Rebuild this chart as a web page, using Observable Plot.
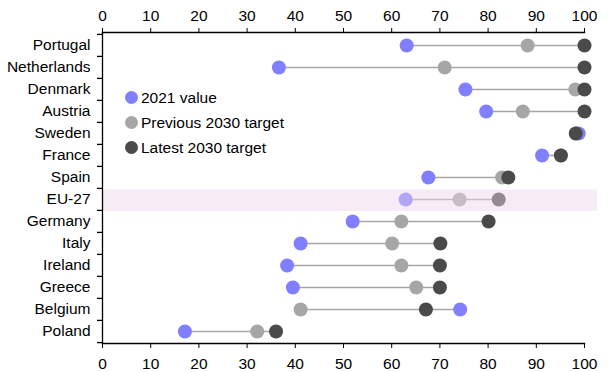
<!DOCTYPE html>
<html>
<head>
<meta charset="utf-8">
<script src="https://cdn.jsdelivr.net/npm/d3@7"></script>
<script src="https://cdn.jsdelivr.net/npm/@observablehq/plot@0.6"></script>
<style>
  html, body { margin: 0; padding: 0; background: #fff; }
  #wrap { position: relative; width: 608px; height: 372px; font-family: "Liberation Sans", Arial, sans-serif; }
  #legend { position: absolute; left: 125px; top: 85px; font-size: 15.5px; color: #000; }
  .item { display: flex; align-items: center; height: 25px; }
  .sw { width: 13px; height: 13px; border-radius: 50%; margin-right: 3px; }
</style>
</head>
<body>
<div id="wrap"><div id="legend"></div></div>
<script>
const countries = ["Portugal","Netherlands","Denmark","Austria","Sweden","France","Spain","EU-27","Germany","Italy","Ireland","Greece","Belgium","Poland"];
const value2021 = [63.1, 36.6, 75.3, 79.6, 98.8, 91.2, 67.6, 62.9, 51.9, 41.1, 38.3, 39.5, 74.2, 17.1];
const previous2030 = [88.2, 71, 98.1, 87.2, 98.2, 95.1, 82.9, 74.1, 62, 60.1, 62, 65.1, 41.1, 32.1];
const latest2030 = [100, 100, 100, 100, 98.2, 95.1, 84.2, 82.2, 80.1, 70.1, 70, 70, 67.1, 36];
const xTicks = [0,10,20,30,40,50,60,70,80,90,100];
const seriesNames = ["2021 value", "Previous 2030 target", "Latest 2030 target"];
const highlight = "EU-27";

const colors = ["#7f7fff", "#a6a6a6", "#4a4a4a"];
const rows = countries.map((c, i) => ({
  country: c, v: value2021[i], p: previous2030[i], l: latest2030[i],
  lo: Math.min(value2021[i], previous2030[i], latest2030[i]),
  hi: Math.max(value2021[i], previous2030[i], latest2030[i])
}));

const H = 372, mt = 32, mb = 29;
const bw = (H - mt - mb) / countries.length;

const chart = Plot.plot({
  width: 608, height: H,
  marginLeft: 102, marginRight: 24, marginTop: mt, marginBottom: mb,
  style: { fontFamily: "'Liberation Sans', Arial, sans-serif", fontSize: "15.5px", color: "#000", background: "transparent" },
  x: { domain: [xTicks[0], xTicks[xTicks.length - 1]] },
  y: { domain: countries, padding: 0 },
  marks: [
    Plot.ruleY(rows, { y: "country", x1: "lo", x2: "hi", stroke: "#a6a6a6", strokeWidth: 1.6 }),
    Plot.dot(rows, { x: "v", y: "country", r: 7, fill: colors[0] }),
    Plot.dot(rows, { x: "p", y: "country", r: 7, fill: colors[1] }),
    Plot.dot(rows, { x: "l", y: "country", r: 7, fill: colors[2] }),
    Plot.barX([highlight], { y: d => d, x1: xTicks[0], x2: xTicks[xTicks.length - 1], insetRight: -13, insetTop: 1.5, insetBottom: -1, fill: "#eed4e9", fillOpacity: 0.46 }),
    Plot.axisX({ anchor: "top", ticks: xTicks, tickSize: 5, tickPadding: 7, label: null, tickFormat: d => d }),
    Plot.axisX({ anchor: "bottom", ticks: xTicks, tickSize: 5, tickPadding: 9.5, label: null, tickFormat: d => d }),
    Plot.axisY({ anchor: "left", tickSize: 0, tickPadding: 12, label: null }),
    Plot.axisY({ anchor: "left", tickSize: 5, text: null, dy: -bw / 2, label: null, strokeWidth: 1.3 }),
    Plot.axisY({ anchor: "left", ticks: [countries[countries.length - 1]], tickSize: 5, text: null, dy: bw / 2, label: null, strokeWidth: 1.3 }),
    Plot.frame({ anchor: "top", strokeWidth: 1.3 }),
    Plot.frame({ anchor: "bottom", strokeWidth: 1.3 }),
    Plot.frame({ anchor: "left", strokeWidth: 1.3 })
  ]
});
document.getElementById("wrap").prepend(chart);

const legend = document.getElementById("legend");
seriesNames.forEach((name, i) => {
  const it = document.createElement("div");
  it.className = "item";
  const sw = document.createElement("span");
  sw.className = "sw";
  sw.style.background = colors[i];
  const t = document.createElement("span");
  t.textContent = name;
  it.appendChild(sw); it.appendChild(t);
  legend.appendChild(it);
});
</script>
</body>
</html>
